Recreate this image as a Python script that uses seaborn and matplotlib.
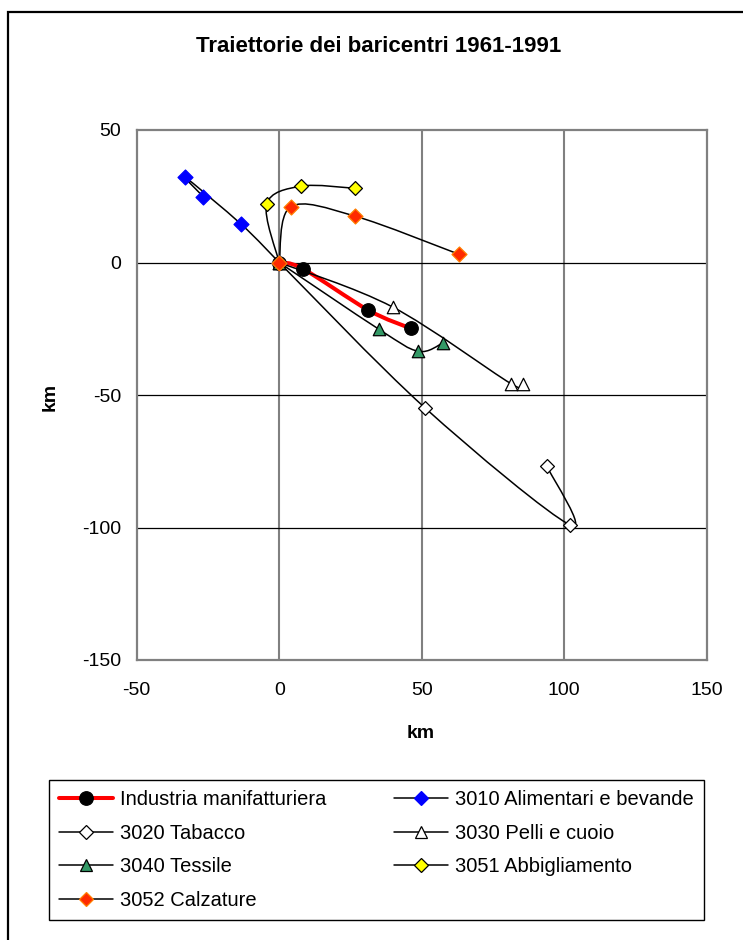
import numpy as np
import pandas as pd
import matplotlib
matplotlib.use("Agg")
import matplotlib.pyplot as plt
import seaborn as sns
from matplotlib.path import Path
from matplotlib.patches import PathPatch, Rectangle
from matplotlib.lines import Line2D

# ---------------- data (km, 1961 -> 1991) ----------------
series_names = ["Industria manifatturiera", "3010 Alimentari e bevande", "3020 Tabacco",
                "3030 Pelli e cuoio", "3040 Tessile", "3051 Abbigliamento", "3052 Calzature"]
ind_x = [0, 8.2, 31.3, 46.2]
ind_y = [0, -2.3, -18.0, -24.9]
ali_x = [0, -13.3, -33.1, -26.6]
ali_y = [0, 14.4, 32.3, 24.8]
tab_x = [0, 51.2, 102.0, 93.9]
tab_y = [0, -54.9, -99.0, -76.8]
pel_x = [0, 39.8, 81.3, 85.4]
pel_y = [0, -16.8, -45.7, -45.7]
tes_x = [0, 35.0, 48.8, 57.4]
tes_y = [0, -25.2, -33.5, -30.4]
abb_x = [0, -4.4, 7.6, 26.6]
abb_y = [0, 22.0, 28.8, 28.0]
cal_x = [0, 4.0, 26.6, 63.1]
cal_y = [0, 21.0, 17.5, 3.1]
x_ticks = [-50, 0, 50, 100, 150]
y_ticks = [-150, -100, -50, 0, 50]

xs_all = [ind_x, ali_x, tab_x, pel_x, tes_x, abb_x, cal_x]
ys_all = [ind_y, ali_y, tab_y, pel_y, tes_y, abb_y, cal_y]

# styles: (line color, line width, marker, scatter size, face, edge)
styles = [
    ("#FF0000", 2.9, "o", 95, "#000000", "#000000"),
    ("#000000", 1.1, "D", 58, "#0000FF", "#0000FF"),
    ("#000000", 1.1, "D", 50, "#FFFFFF", "#000000"),
    ("#000000", 1.1, "^", 80, "#FFFFFF", "#000000"),
    ("#000000", 1.1, "^", 80, "#339966", "#000000"),
    ("#000000", 1.1, "D", 50, "#FFFF00", "#000000"),
    ("#000000", 1.1, "D", 58, "#FF2A00", "#FF7F00"),
]

sns.set_style("white")
plt.rcParams["font.family"] = ["Liberation Sans", "DejaVu Sans"]
plt.rcParams["text.color"] = "#000000"
plt.rcParams["axes.labelcolor"] = "#000000"
plt.rcParams["xtick.color"] = "#000000"
plt.rcParams["ytick.color"] = "#000000"

fig = plt.figure(figsize=(7.43, 9.40), dpi=100)
ax = fig.add_axes([136.7 / 743, 280 / 940, 570 / 743, 530 / 940])


def smooth_path(xs, ys):
    pts = np.column_stack([xs, ys]).astype(float)
    n = len(pts)
    verts = [pts[0]]
    codes = [Path.MOVETO]
    for i in range(n - 1):
        p0 = pts[i - 1] if i > 0 else pts[i]
        p1 = pts[i]
        p2 = pts[i + 1]
        p3 = pts[i + 2] if i + 2 < n else pts[i + 1]
        c1 = p1 + (p2 - p0) / 6.0
        c2 = p2 - (p3 - p1) / 6.0
        verts += [c1, c2, p2]
        codes += [Path.CURVE4] * 3
    return Path(verts, codes)


# gridlines
for xv in [0, 50, 100]:
    ax.axvline(xv, color="#808080", lw=1.5, zorder=0.5)
for yv in [-100, -50, 0]:
    ax.axhline(yv, color="#000000", lw=0.9, zorder=0.6)

handles = []
for i, (name, xs, ys) in enumerate(zip(series_names, xs_all, ys_all)):
    lc, lw, mk, s, fc, ec = styles[i]
    patch = PathPatch(smooth_path(xs, ys), facecolor="none", edgecolor=lc, lw=lw,
                      zorder=2 + i * 0.1, capstyle="round", joinstyle="round")
    ax.add_patch(patch)
    df = pd.DataFrame({"x": xs, "y": ys})
    sns.scatterplot(data=df, x="x", y="y", ax=ax, marker=mk, s=s, color=fc,
                    edgecolor=ec, linewidth=0.9, zorder=3 + i * 0.1, legend=False)
    handles.append(Line2D([], [], color=lc, lw=lw, marker=mk, markersize=np.sqrt(s),
                          markerfacecolor=fc, markeredgecolor=ec, markeredgewidth=0.9))

ax.set_xlim(-50, 150)
ax.set_ylim(-150, 50)
ax.set_xticks(x_ticks)
ax.set_yticks(y_ticks)
ax.set_xticklabels([str(v) for v in x_ticks])
ax.set_yticklabels([str(v) for v in y_ticks])
ax.tick_params(axis="x", length=0, pad=16, labelsize=14)
ax.tick_params(axis="y", length=0, pad=11, labelsize=14)
ax.set_xlabel("")
ax.set_ylabel("")
for sp in ax.spines.values():
    sp.set_color("#808080")
    sp.set_linewidth(1.6)
    sp.set_visible(True)

fig.text(378.5 / 743, 1 - 47 / 940, "Traiettorie dei baricentri 1961-1991",
         ha="center", va="center", fontsize=16, fontweight="bold")
fig.text(421 / 743, 1 - 733 / 940, "km", ha="center", va="center",
         fontsize=14, fontweight="bold")
fig.text(50 / 743, 1 - 397 / 940, "km", ha="center", va="center",
         fontsize=14, fontweight="bold", rotation=90)

order = [0, 2, 4, 6, 1, 3, 5]
leg = fig.legend([handles[k] for k in order], [series_names[k] for k in order],
                 loc="upper left", ncol=2,
                 bbox_to_anchor=(49 / 743, 1 - 780 / 940, 655 / 743, 0.0),
                 mode="expand", fontsize=14.5, frameon=True, fancybox=False,
                 edgecolor="#000000", framealpha=1, handlelength=2.7,
                 handletextpad=0.35, labelspacing=0.72, borderpad=0.5,
                 borderaxespad=0, columnspacing=1.5)
leg.get_frame().set_linewidth(1.0)

fig.add_artist(Rectangle((8 / 743, -0.1), 2.0, 1.1 - 12 / 940, transform=fig.transFigure,
                         fill=False, edgecolor="#000000", lw=1.6))

fig.savefig("out.png", dpi=100)
